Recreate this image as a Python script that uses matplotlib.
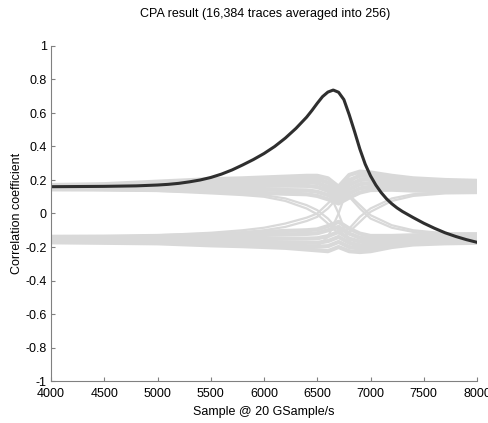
import matplotlib
matplotlib.use("Agg")
import matplotlib.pyplot as plt

plt.rcParams['font.family'] = ['Liberation Sans', 'DejaVu Sans']

# correct key guess (dark trace)
key_x = [4000, 4500, 4800, 5000, 5100, 5200, 5300, 5400, 5500, 5600, 5700, 5800,
         5900, 6000, 6100, 6200, 6300, 6400, 6450, 6500, 6550, 6600, 6650, 6700,
         6750, 6800, 6850, 6900, 6950, 7000, 7050, 7100, 7150, 7200, 7250, 7300,
         7400, 7500, 7600, 7700, 7800, 7900, 8000]
key_y = [0.160, 0.162, 0.165, 0.170, 0.174, 0.180, 0.189, 0.200, 0.215, 0.235, 0.260, 0.290,
         0.322, 0.358, 0.400, 0.450, 0.508, 0.575, 0.615, 0.658, 0.698, 0.725, 0.737, 0.724,
         0.680, 0.590, 0.490, 0.385, 0.295, 0.225, 0.170, 0.125, 0.088, 0.058, 0.033, 0.012,
         -0.024, -0.058, -0.088, -0.115, -0.137, -0.156, -0.172]

# wrong key guesses (grey traces), all sampled on the same grid
grid_x = [4000, 4500, 5000, 5500, 5800, 6000, 6200, 6400, 6500, 6600, 6700,
          6800, 6900, 7000, 7200, 7400, 7700, 8000]

upper_traces = [
    [0.170, 0.175, 0.190, 0.205, 0.210, 0.215, 0.220, 0.225, 0.225, 0.210, 0.160, 0.230, 0.250, 0.245, 0.225, 0.210, 0.200, 0.195],
    [0.166, 0.170, 0.180, 0.192, 0.198, 0.202, 0.206, 0.208, 0.205, 0.185, 0.140, 0.200, 0.225, 0.225, 0.210, 0.195, 0.188, 0.186],
    [0.161, 0.163, 0.168, 0.178, 0.182, 0.185, 0.188, 0.188, 0.182, 0.160, 0.120, 0.170, 0.200, 0.205, 0.192, 0.180, 0.175, 0.174],
    [0.156, 0.157, 0.158, 0.162, 0.164, 0.165, 0.166, 0.165, 0.158, 0.135, 0.100, 0.145, 0.175, 0.182, 0.175, 0.165, 0.162, 0.160],
    [0.150, 0.150, 0.150, 0.148, 0.145, 0.143, 0.140, 0.138, 0.130, 0.110, 0.080, 0.120, 0.150, 0.160, 0.158, 0.150, 0.147, 0.146],
    [0.144, 0.143, 0.140, 0.133, 0.127, 0.122, 0.118, 0.115, 0.105, 0.085, 0.060, 0.095, 0.125, 0.140, 0.142, 0.137, 0.133, 0.132],
]
lower_traces = [
    [-0.172, -0.175, -0.178, -0.190, -0.195, -0.200, -0.205, -0.215, -0.220, -0.225, -0.200, -0.225, -0.230, -0.225, -0.200, -0.185, -0.178, -0.175],
    [-0.166, -0.168, -0.170, -0.178, -0.182, -0.186, -0.190, -0.196, -0.198, -0.195, -0.170, -0.200, -0.210, -0.208, -0.188, -0.175, -0.170, -0.168],
    [-0.160, -0.161, -0.162, -0.166, -0.168, -0.170, -0.172, -0.175, -0.175, -0.165, -0.140, -0.175, -0.190, -0.190, -0.176, -0.165, -0.160, -0.158],
    [-0.153, -0.153, -0.152, -0.152, -0.150, -0.150, -0.150, -0.150, -0.148, -0.135, -0.110, -0.150, -0.168, -0.172, -0.162, -0.152, -0.148, -0.146],
    [-0.146, -0.145, -0.143, -0.138, -0.133, -0.128, -0.125, -0.122, -0.118, -0.100, -0.080, -0.120, -0.145, -0.152, -0.147, -0.140, -0.136, -0.135],
    [-0.139, -0.138, -0.134, -0.126, -0.118, -0.110, -0.104, -0.100, -0.095, -0.075, -0.050, -0.090, -0.120, -0.134, -0.134, -0.130, -0.126, -0.124],
]
cross_traces = [
    [0.145, 0.140, 0.135, 0.120, 0.110, 0.100, 0.075, 0.030, -0.005, -0.060, -0.120, -0.090, -0.020, 0.030, 0.090, 0.115, 0.125, 0.125],
    [0.148, 0.145, 0.140, 0.128, 0.118, 0.110, 0.090, 0.050, 0.020, -0.030, -0.100, -0.110, -0.050, 0.010, 0.075, 0.105, 0.120, 0.122],
    [-0.145, -0.140, -0.130, -0.115, -0.100, -0.085, -0.060, -0.025, 0.000, 0.060, 0.120, 0.100, 0.030, -0.030, -0.085, -0.110, -0.125, -0.125],
    [-0.148, -0.145, -0.138, -0.125, -0.112, -0.100, -0.080, -0.045, -0.020, 0.030, 0.100, 0.110, 0.050, -0.010, -0.070, -0.100, -0.118, -0.120],
    [0.160, 0.165, 0.175, 0.190, 0.195, 0.200, 0.205, 0.205, 0.195, 0.140, 0.000, -0.170, -0.220, -0.210, -0.190, -0.180, -0.175, -0.175],
    [-0.160, -0.165, -0.172, -0.180, -0.185, -0.190, -0.195, -0.200, -0.195, -0.140, 0.000, 0.180, 0.240, 0.230, 0.210, 0.200, 0.190, 0.190],
]

fig = plt.figure(figsize=(4.88, 4.23), dpi=100)
ax = fig.add_axes([51/488, 42/423, 426/488, 335/423])

grey = '#d9d9d9'
for tr in upper_traces + lower_traces:
    ax.plot(grid_x, tr, color=grey, lw=3.0, solid_capstyle='butt')
for tr in cross_traces:
    ax.plot(grid_x, tr, color=grey, lw=1.6, solid_capstyle='butt')
ax.plot(key_x, key_y, color='#2f2f2f', lw=2.2)

ax.set_xlim(4000, 8000)
ax.set_ylim(-1, 1)
ax.set_xticks(range(4000, 8001, 500))
ax.set_yticks([-1, -0.8, -0.6, -0.4, -0.2, 0, 0.2, 0.4, 0.6, 0.8, 1])
ax.set_yticklabels(['-1', '-0.8', '-0.6', '-0.4', '-0.2', '0', '0.2', '0.4', '0.6', '0.8', '1'])
for s in ['top', 'right']:
    ax.spines[s].set_visible(False)
for s in ['left', 'bottom']:
    ax.spines[s].set_color('#808080')
    ax.spines[s].set_linewidth(0.8)
ax.tick_params(direction='in', length=3, width=0.8, color='#808080', labelsize=9)
ax.tick_params(axis='x', pad=5)
ax.tick_params(axis='y', pad=3)

ax.set_xlabel('Sample @ 20 GSample/s', fontsize=9, labelpad=4)
ax.set_ylabel('Correlation coefficient', fontsize=9, labelpad=2)
fig.text(265/488, 1 - 14/423, 'CPA result (16,384 traces averaged into 256)',
         ha='center', va='center', fontsize=9)

fig.savefig('out.png', dpi=100)
